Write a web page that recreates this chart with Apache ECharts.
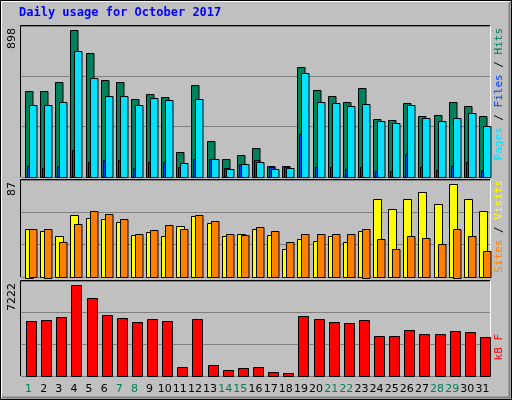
<!DOCTYPE html>
<html><head><meta charset="utf-8">
<script src="https://cdn.jsdelivr.net/npm/echarts@6/dist/echarts.min.js"></script>
<style>html,body{margin:0;padding:0;background:#c0c0c0}#c{width:512px;height:400px}</style>
</head><body><div id="c"></div>
<script>
const days = Array.from({length:31},(_,i)=>String(i+1));
const weekendDays = ['1','7','8','14','15','21','22','28','29'];
const hits  = [526,526,581,898,758,593,581,477,508,490,154,563,221,112,136,179,69,69,672,532,496,459,544,356,345,453,374,380,459,435,374];
const files = [441,441,459,770,605,496,496,441,484,471,87,477,112,51,81,93,51,57,636,459,453,435,447,343,331,441,362,343,362,392,313];
const pages = [69,57,69,167,93,106,106,57,93,93,63,112,112,57,81,106,63,63,264,63,63,51,63,39,39,142,63,45,69,93,45];
const visits= [45.5,42.7,38,57.8,55,54,51.2,39,41.8,38,47.4,56.8,50.3,38,40.8,44.6,39,25.8,36,34.2,38,32.4,42.7,72.9,63.4,72.9,79.5,68.2,87,72.9,61.6];
const sites = [44.6,45.5,32.4,49.3,61.6,58.7,54,39.9,43.7,48.4,44.6,57.8,52.1,40.8,39,46.5,42.7,32.4,40.8,39.9,39.9,39.9,45.5,36,25.8,38,37,31.4,45.5,38,24.8];
const kbytes= [4375,4454,4692,7222,6194,4850,4613,4296,4533,4375,738,4533,896,501,659,738,343,263,4771,4533,4296,4217,4454,3189,3189,3664,3347,3347,3585,3506,3110];
const maxLabels = ['898','87','7222'];

function barSeries(data, gi, x0, x1, color, z){
  return {type:'custom', xAxisIndex:gi, yAxisIndex:gi, z:z,
    data:data.map((v,i)=>[i,v]),
    renderItem:(p,api)=>{
      const top=api.coord([api.value(0),api.value(1)]);
      const bot=api.coord([api.value(0),0]);
      return {type:'rect', shape:{x:Math.round(bot[0]+x0)+0.5,y:Math.round(top[1])+0.5,width:x1-x0,height:Math.round(bot[1]-top[1])},
        style:{fill:color,stroke:'#000',lineWidth:1}};
    }};
}
const grids=[{left:21,right:22,top:26,height:151},{left:21,right:22,top:180,height:97},{left:21,right:22,top:281,height:95}];
const maxes=[920,91,7506];
const chart=echarts.init(document.getElementById('c'));
chart.setOption({
  backgroundColor:'#c0c0c0', animation:false,
  grid:grids,
  xAxis:grids.map((g,i)=>({type:'category',gridIndex:i,data:days,
    axisLine:{show:false},axisTick:{show:false},
    axisLabel:{show:i===2,margin:8,interval:0,fontFamily:'DejaVu Sans',fontSize:11,
      formatter:v=>weekendDays.includes(v)?'{w|'+v+'}':'{n|'+v+'}',
      rich:{w:{color:'#00805c',fontFamily:'DejaVu Sans',fontSize:11},n:{color:'#000',fontFamily:'DejaVu Sans',fontSize:11}}}})),
  yAxis:grids.map((g,i)=>({type:'value',gridIndex:i,min:0,max:maxes[i],interval:maxes[i]/3,
    axisLabel:{show:false},axisLine:{show:false},axisTick:{show:false},
    splitLine:{lineStyle:{color:'#808080',width:1}}})),
  series:[
    barSeries(hits,0,-3.5,4,'#00805c',2),
    barSeries(pages,0,-1.5,4,'#0040ff',3),
    barSeries(files,0,0.5,8,'#00e0ff',4),
    barSeries(visits,1,-3.5,4.5,'#ffff00',2),
    barSeries(sites,1,0.5,8,'#ff8000',3),
    barSeries(kbytes,2,-2.5,7.5,'#ff0000',2)
  ],
  graphic:[
    {type:'rect',shape:{x:0.5,y:0.5,width:511,height:399},style:{fill:'none',stroke:'#000',lineWidth:1},z:10},
    {type:'polyline',shape:{points:[[1.5,398],[1.5,1.5],[510,1.5]]},style:{stroke:'#fff',lineWidth:1},z:10},
    {type:'polyline',shape:{points:[[2,397.5],[509.5,397.5],[509.5,2]]},style:{stroke:'#808080',lineWidth:2},z:10},
    {type:'text',left:19,top:7,style:{text:'Daily usage for October 2017',fill:'#0000ff',font:'bold 12px "DejaVu Sans Mono"'}},
    ...grids.map((g,i)=>({type:'group',z:10,children:[
      {type:'polyline',shape:{points:[[g.left-0.5,g.top+g.height],[g.left-0.5,g.top-0.5],[512-g.right,g.top-0.5]]},style:{stroke:'#000',lineWidth:1}},
      {type:'polyline',shape:{points:[[g.left,g.top+g.height+0.5],[512-g.right+0.5,g.top+g.height+0.5],[512-g.right+0.5,g.top]]},style:{stroke:'#fff',lineWidth:1}}
    ]})),
    ...grids.map((g,i)=>({type:'text',x:7,y:g.top+2,rotation:Math.PI/2,
      style:{text:maxLabels[i],fill:'#000',font:'11px "DejaVu Sans"',align:'right',verticalAlign:'top'}})),
    {type:'text',x:494,y:28,rotation:Math.PI/2,style:{align:'right',verticalAlign:'top',
      text:'{a|Pages}{s| / }{b|Files}{s| / }{c|Hits}',
      rich:{a:{fill:'#00e0ff',font:'11px "DejaVu Sans Mono"'},b:{fill:'#0040ff',font:'11px "DejaVu Sans Mono"'},c:{fill:'#00805c',font:'11px "DejaVu Sans Mono"'},s:{fill:'#000',font:'11px "DejaVu Sans Mono"'}}}},
    {type:'text',x:494,y:180,rotation:Math.PI/2,style:{align:'right',verticalAlign:'top',
      text:'{a|Sites}{s| / }{b|Visits}',
      rich:{a:{fill:'#ff8000',font:'11px "DejaVu Sans Mono"'},b:{fill:'#ffff00',font:'11px "DejaVu Sans Mono"'},s:{fill:'#000',font:'11px "DejaVu Sans Mono"'}}}},
    {type:'text',x:494,y:334,rotation:Math.PI/2,style:{align:'right',verticalAlign:'top',
      text:'kB F',fill:'#ff0000',font:'11px "DejaVu Sans Mono"'}}
  ]
});
</script></body></html>
